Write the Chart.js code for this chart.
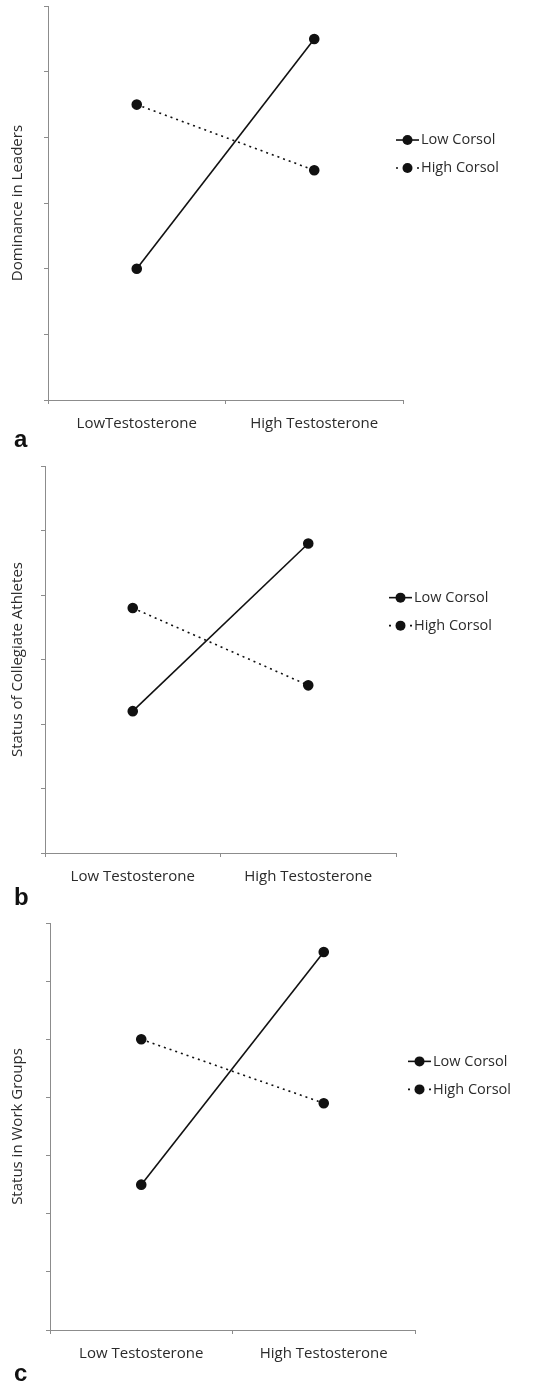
<!DOCTYPE html>
<html>
<head>
<meta charset="utf-8">
<script src="https://cdn.jsdelivr.net/npm/chart.js@4.4.1/dist/chart.umd.min.js"></script>
<style>
  html, body { margin: 0; padding: 0; background: #fff; }
  .panel { position: absolute; left: 0; width: 538px; }
</style>
</head>
<body>
<div class="panel" style="top:0;height:460px"><canvas id="chartA"></canvas></div>
<div class="panel" style="top:460px;height:450px"><canvas id="chartB"></canvas></div>
<div class="panel" style="top:910px;height:475px"><canvas id="chartC"></canvas></div>
<script>
// data
const seriesNames = ["Low Corsol", "High Corsol"];
const catsA = ["LowTestosterone", "High Testosterone"];
const catsB = ["Low Testosterone", "High Testosterone"];
const catsC = ["Low Testosterone", "High Testosterone"];
const lowCortA = [2, 5.5];
const highCortA = [4.5, 3.5];
const lowCortB = [2.2, 4.8];
const highCortB = [3.8, 2.6];
const lowCortC = [2.5, 6.5];
const highCortC = [5, 3.9];
const yMaxA = 6, yMaxB = 6, yMaxC = 7;

const FONT = "'Open Sans', sans-serif";
const TEXT = "#2b2b2b";
const AXIS = "#8c8c8c";

// legend drawn as line + marker like the original (Excel style)
const sideLegend = {
  id: "sideLegend",
  afterDraw(chart, args, opts) {
    const ctx = chart.ctx, a = chart.chartArea;
    const x = a.right + opts.dx;
    let y = a.top + (a.bottom - a.top) * 0.34;
    ctx.save();
    chart.data.datasets.forEach(ds => {
      ctx.strokeStyle = "#111";
      ctx.lineWidth = 1.6;
      ctx.setLineDash(ds.borderDash ? [2, 5] : []);
      ctx.beginPath();
      ctx.moveTo(x, y);
      ctx.lineTo(x + 23, y);
      ctx.stroke();
      ctx.setLineDash([]);
      ctx.fillStyle = "#111";
      ctx.beginPath();
      ctx.arc(x + 11.5, y, 5, 0, Math.PI * 2);
      ctx.fill();
      ctx.fillStyle = TEXT;
      ctx.font = "14.5px " + FONT;
      ctx.textBaseline = "middle";
      ctx.fillText(ds.label, x + 25, y);
      y += 28;
    });
    ctx.restore();
  }
};

const panelLetter = {
  id: "panelLetter",
  afterDraw(chart, args, opts) {
    const ctx = chart.ctx;
    ctx.save();
    ctx.fillStyle = "#111";
    ctx.font = "bold 24px 'Liberation Sans', Arial, sans-serif";
    ctx.textBaseline = "middle";
    ctx.fillText(opts.text, 14, opts.y);
    ctx.restore();
  }
};

function makePanel(id, cats, low, high, yMax, yTitle, box, letter) {
  new Chart(document.getElementById(id), {
    type: "line",
    data: {
      labels: cats,
      datasets: [{
        label: seriesNames[0],
        data: low,
        borderColor: "#111",
        backgroundColor: "#111",
        borderWidth: 1.6,
        pointRadius: 4.5,
        pointHoverRadius: 4.5
      }, {
        label: seriesNames[1],
        data: high,
        borderColor: "#111",
        backgroundColor: "#111",
        borderWidth: 1.6,
        borderDash: [2, 4],
        pointRadius: 4.5,
        pointHoverRadius: 4.5
      }]
    },
    options: {
      responsive: true,
      maintainAspectRatio: false,
      animation: false,
      layout: {
        padding: { left: 0, top: box.top, right: 538 - box.right, bottom: box.h - box.bottom - 36 }
      },
      plugins: {
        legend: { display: false },
        tooltip: { enabled: false },
        sideLegend: { dx: -7 },
        panelLetter: { text: letter, y: box.letterY }
      },
      scales: {
        x: {
          offset: true,
          afterFit: s => { s.height = 36; },
          grid: { offset: true, drawOnChartArea: false, color: AXIS, tickLength: 4 },
          border: { color: AXIS, width: 1 },
          ticks: { color: TEXT, font: { family: FONT, size: 15 }, padding: 11 }
        },
        y: {
          min: 0,
          max: yMax,
          afterFit: s => { s.width = box.left; },
          ticks: { stepSize: 1, display: false },
          grid: { drawOnChartArea: false, color: AXIS, tickLength: 4 },
          border: { color: AXIS, width: 1 },
          title: { display: true, text: yTitle, color: TEXT, font: { family: FONT, size: 15 }, padding: { top: 9, bottom: 2 } }
        }
      }
    },
    plugins: [sideLegend, panelLetter]
  });
}

makePanel("chartA", catsA, lowCortA, highCortA, yMaxA, "Dominance in Leaders",
  { left: 48, top: 6, right: 403, bottom: 400, h: 460, letterY: 440 }, "a");
makePanel("chartB", catsB, lowCortB, highCortB, yMaxB, "Status of Collegiate Athletes",
  { left: 45, top: 5, right: 396, bottom: 393, h: 450, letterY: 438 }, "b");
makePanel("chartC", catsC, lowCortC, highCortC, yMaxC, "Status in Work Groups",
  { left: 50, top: 13, right: 415, bottom: 420, h: 475, letterY: 464 }, "c");
</script>
</body>
</html>
